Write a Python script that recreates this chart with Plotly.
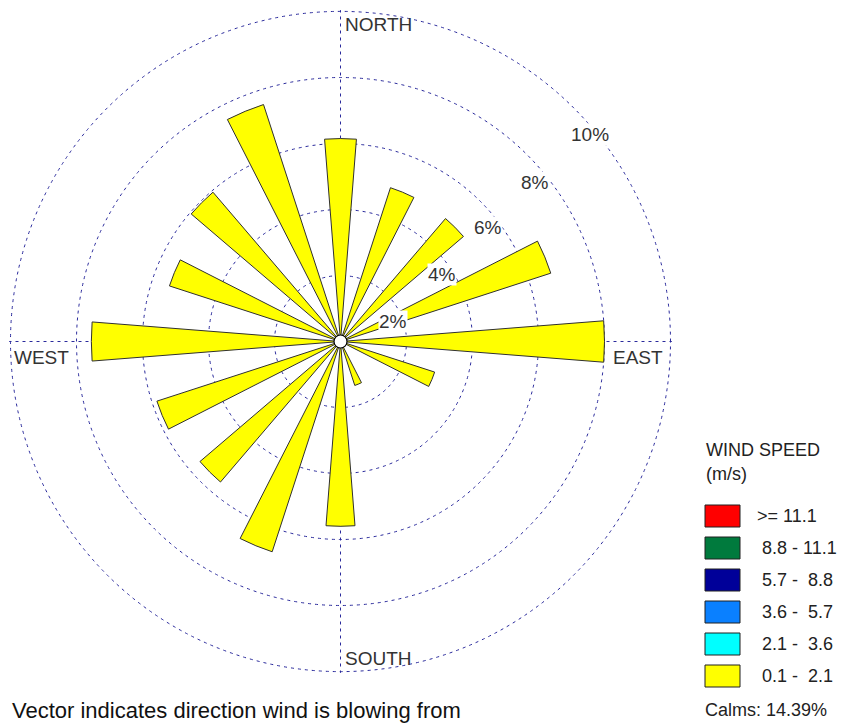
import plotly.graph_objects as go

# ---------------- data ----------------
directions = ["N", "NNE", "NE", "ENE", "E", "ESE", "SE", "SSE",
              "S", "SSW", "SW", "WSW", "W", "WNW", "NW", "NNW"]
dir_angles = [0, 22.5, 45, 67.5, 90, 112.5, 135, 157.5,
              180, 202.5, 225, 247.5, 270, 292.5, 315, 337.5]
# frequency (%) of the 0.1 - 2.1 m/s class per direction
freq_01_21 = [6.15, 4.9, 4.9, 6.7, 8.0, 3.0, 0.0, 1.4,
              5.6, 6.7, 5.6, 5.85, 7.55, 5.45, 5.95, 7.55]
speed_classes = [">= 11.1", "8.8 - 11.1", "5.7 -  8.8", "3.6 -  5.7", "2.1 -  3.6", "0.1 -  2.1"]
class_colors = ["#ff0000", "#007a3d", "#000099", "#0a80ff", "#00ffff", "#ffff00"]
ring_ticks = [2, 4, 6, 8, 10]
ring_labels = ["2%", "4%", "6%", "8%", "10%"]
cardinal_labels = ["NORTH", "EAST", "SOUTH", "WEST"]
calms_pct = 14.39

# ---------------- layout helpers ----------------
W, H = 843, 724
def px(x):
    return x / W
def py(y):
    return 1 - y / H

GRID = "#2a2a9c"
FONT = "Liberation Sans, Arial, sans-serif"
RMAX = 10.04  # slightly beyond 10 so that the 10% ring is drawn

fig = go.Figure()
fig.add_trace(go.Barpolar(
    r=freq_01_21, theta=dir_angles, width=9,
    marker=dict(color=class_colors[-1], line=dict(color="#303030", width=1)),
    name=speed_classes[-1], showlegend=False, hoverinfo="skip"))
# calm circle at centre
fig.add_trace(go.Scatterpolar(
    r=[0], theta=[0], mode="markers",
    marker=dict(size=13, color="white", line=dict(color="black", width=1.2)),
    showlegend=False, hoverinfo="skip"))

cx, cy = 340.5, 341.5
R = 330 * RMAX / 10
fig.update_layout(
    width=W, height=H,
    margin=dict(l=0, r=0, t=0, b=0),
    paper_bgcolor="white",
    font=dict(family=FONT),
    showlegend=False,
    polar=dict(
        domain=dict(x=[px(cx - R), px(cx + R)], y=[py(cy + R), py(cy - R)]),
        bgcolor="white",
        radialaxis=dict(range=[0, RMAX], tickvals=ring_ticks, showticklabels=False,
                        ticks="", showline=False, gridcolor=GRID, gridwidth=1.3,
                        griddash="3px,4px"),
        angularaxis=dict(rotation=90, direction="clockwise",
                         tickvals=[0, 90, 180, 270], showticklabels=False,
                         ticks="", showline=False, gridcolor=GRID, gridwidth=1.3,
                         griddash="3px,4px"),
    ),
)

ann = []
# ring labels
ring_label_pos = [(393, 322), (442, 275), (488, 228), (535, 182), (590, 134)]
for lab, (x, y) in zip(ring_labels, ring_label_pos):
    ann.append(dict(x=px(x), y=py(y), xref="paper", yref="paper", text=lab,
                    showarrow=False, xanchor="center", yanchor="middle",
                    bgcolor="white", borderpad=0,
                    font=dict(size=19, color="#333333")))
# cardinal labels
card_pos = [(344, 25), (612, 357), (344, 658.5), (13, 357)]
for lab, (x, y) in zip(cardinal_labels, card_pos):
    ann.append(dict(x=px(x), y=py(y), xref="paper", yref="paper", text=lab,
                    showarrow=False, xanchor="left", yanchor="middle",
                    borderpad=0, font=dict(size=19, color="#333333")))
# legend
ann.append(dict(x=px(704), y=py(450), xref="paper", yref="paper", text="WIND SPEED",
                showarrow=False, xanchor="left", yanchor="middle",
                font=dict(size=18, color="#222222")))
ann.append(dict(x=px(704), y=py(474), xref="paper", yref="paper", text="(m/s)",
                showarrow=False, xanchor="left", yanchor="middle",
                font=dict(size=18, color="#222222")))
shapes = []
for i, (lab, col) in enumerate(zip(speed_classes, class_colors)):
    top = 505 + 32 * i
    shapes.append(dict(type="rect", xref="paper", yref="paper",
                       x0=px(705), x1=px(740), y0=py(top + 22), y1=py(top),
                       fillcolor=col, line=dict(color="#202020", width=1)))
    text = lab.replace(" ", "\u00a0")
    if not lab.startswith(">"):
        text = "\u00a0" + text
    ann.append(dict(x=px(755), y=py(top + 11), xref="paper", yref="paper", text=text,
                    showarrow=False, xanchor="left", yanchor="middle",
                    font=dict(size=18, color="#222222")))
ann.append(dict(x=px(703), y=py(710), xref="paper", yref="paper",
                text=f"Calms: {calms_pct:.2f}%",
                showarrow=False, xanchor="left", yanchor="middle",
                font=dict(size=18, color="#222222")))
ann.append(dict(x=px(10), y=py(710), xref="paper", yref="paper",
                text="Vector indicates direction wind is blowing from",
                showarrow=False, xanchor="left", yanchor="middle",
                font=dict(size=22, color="#111111")))
fig.update_layout(annotations=ann, shapes=shapes)

fig.write_html("out.html",
               config={"displayModeBar": False},
               post_script="document.body.style.margin='0px';"
                           "document.body.style.overflow='hidden';")
